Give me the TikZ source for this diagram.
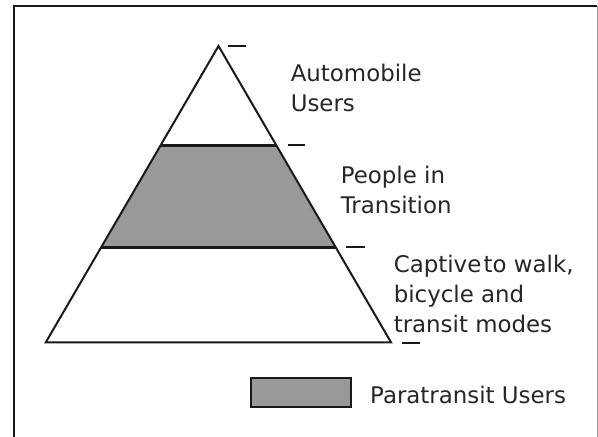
\documentclass[tikz,border=0pt]{standalone}
\usepackage{fontspec}
\setmainfont{DejaVu Sans}
\begin{document}
\begin{tikzpicture}[x=1pt,y=-1pt,line join=miter]
\tikzset{
  edge/.style={line width=2pt,draw=black!90},
  tickmark/.style={line width=2pt,draw=black!90},
  lbl/.style={anchor=base west,inner sep=0pt,align=left,font=\fontsize{22.9}{30}\selectfont,text=black!85},
  bandfill/.style={fill=black!40},
}
\useasboundingbox (0,0) rectangle (598,437);
% frame
\draw[line width=2pt,draw=black!90] (13.8,437) |- (597,5.7);
\draw[line width=0.8pt,draw=black!40] (597.4,5.7) -- (597.4,437);
% pyramid
\coordinate (apex) at (218.5,46);
\coordinate (bl) at (45.8,342.3);
\coordinate (br) at (391,342.3);
\coordinate (b1l) at (160.8,145.3);
\coordinate (b1r) at (276,145.3);
\coordinate (b2l) at (101.3,247.3);
\coordinate (b2r) at (335.5,247.3);
\fill[bandfill] (b1l) -- (b1r) -- (b2r) -- (b2l) -- cycle;
\draw[edge] (apex) -- (bl) -- (br) -- cycle;
\draw[edge,line width=2.4pt] (b1l) -- (b1r);
\draw[edge,line width=2.4pt] (b2l) -- (b2r);
% ticks
\coordinate (t1a) at (227.7,46);   \coordinate (t1b) at (246,46);
\coordinate (t2a) at (288,145.3);  \coordinate (t2b) at (305,145.3);
\coordinate (t3a) at (346,247.3);  \coordinate (t3b) at (365,247.3);
\coordinate (t4a) at (401.6,343.3);\coordinate (t4b) at (419.5,343.3);
\draw[tickmark] (t1a) -- (t1b);
\draw[tickmark] (t2a) -- (t2b);
\draw[tickmark] (t3a) -- (t3b);
\draw[tickmark] (t4a) -- (t4b);
% labels (anchor = baseline of last line)
\node[lbl] (auto) at (290.6,111) {Automobile\\Users};
\node[lbl] (people) at (340.6,213) {People in\\Transition};
\node[lbl] (captive) at (393.6,332.3) {Captive\hspace{0.1em}to walk,\\bicycle and\\transit modes};
% legend
\node[draw=black!90,line width=2pt,bandfill,minimum width=99.8pt,minimum height=29pt,inner sep=0pt] (legbox) at (300.7,392.8) {};
\node[lbl] (legtext) at (370,403.3) {Paratransit Users};
\end{tikzpicture}
\end{document}
